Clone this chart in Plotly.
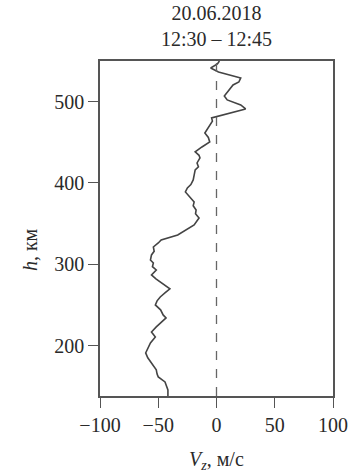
import plotly.graph_objects as go

# altitude (km) and vertical velocity Vz (m/s)
h_km = [550, 546.4, 541.4, 536.5, 529.2, 524.2, 520.5, 514.4, 507, 502.1, 496, 491, 487.4,
        482.4, 480, 476, 471.3, 466, 461.5, 456, 450.4, 444.3, 438.2, 434, 430.8, 424.6,
        420, 416, 410, 403.7, 398, 393.9, 389, 382.8, 376.7, 372, 366.8, 362, 357, 348.4,
        342.3, 336.1, 330, 326.2, 321.3, 316, 311.5, 305.3, 301.6, 297, 293, 286.9, 282,
        278.3, 274, 269.7, 265, 259.8, 255, 250, 244, 237.7, 234, 228, 223, 216.8, 210.7,
        203.3, 197, 191, 185, 180, 175, 170.1, 165, 161.5, 155.3, 150, 145.5, 138]
vz_ms = [2.5, 0.8, -5, 1.7, 20.8, 19.2, 14.2, 10.8, 6.7, 9.2, 20.8, 25, 15,
         0, -4.2, -3.5, -5.8, -8, -10, -7, -5.8, -12.5, -18.3, -15, -14.2, -16.7,
         -15.5, -18.3, -19, -20, -22, -25, -26.7, -22.5, -19.2, -20, -17.5, -18, -15, -19.2,
         -26.7, -33.3, -47.5, -50, -54.2, -53.5, -55.8, -56.7, -54.2, -55, -51.7, -55.8, -52,
         -48.3, -44, -40, -44, -48.3, -51, -52.5, -48, -45.8, -43.3, -48, -51.7, -55.8, -52.5,
         -56.7, -58.5, -60.8, -59, -56.7, -54, -51.7, -51, -50, -44.2, -43, -41.7, -41.7]

x_ticks = [-100, -50, 0, 50, 100]
y_ticks = [200, 300, 400, 500]

FONT = "Liberation Serif"
AX = "#555555"
TXT = "#2a2a2a"

fig = go.Figure()
fig.add_trace(go.Scatter(x=vz_ms, y=h_km, mode="lines",
                         line=dict(color="#444444", width=1.6), showlegend=False,
                         hoverinfo="skip"))
fig.add_shape(type="line", x0=0, x1=0, xref="x", y0=0, y1=1, yref="paper",
              line=dict(color="#666666", width=1.3, dash="dash"))

fig.update_layout(
    width=360, height=474,
    margin=dict(l=100, r=20, t=61, b=78),
    paper_bgcolor="white", plot_bgcolor="white",
    font=dict(family=FONT, size=20, color=TXT),
    showlegend=False,
)
fig.update_xaxes(range=[-100, 100], tickvals=x_ticks, ticks="outside", ticklen=10,
                 tickcolor=AX, tickwidth=1.3, showline=True, linecolor=AX, linewidth=1.5,
                 mirror=True, showgrid=False, zeroline=False,
                 tickfont=dict(family=FONT, size=20, color=TXT))
fig.update_yaxes(range=[138, 550], tickvals=y_ticks, ticks="outside", ticklen=10,
                 tickcolor=AX, tickwidth=1.3, showline=True, linecolor=AX, linewidth=1.5,
                 mirror=True, showgrid=False, zeroline=False,
                 tickfont=dict(family=FONT, size=20, color=TXT))

H = 335.0
def py(ypix):
    return (396 - ypix) / H

fig.add_annotation(text="20.06.2018<br>12:30 – 12:45", xref="paper", yref="paper",
                   x=0.5, y=py(26), showarrow=False, yanchor="middle",
                   font=dict(family=FONT, size=20, color=TXT))
fig.add_annotation(text="<i>h</i>, км", xref="paper", yref="paper",
                   x=(28 - 100) / 240.0, y=py(250), textangle=-90, showarrow=False,
                   xanchor="center", yanchor="middle",
                   font=dict(family=FONT, size=20, color=TXT))
fig.add_annotation(text="<i>V</i><sub><i>z</i></sub>, м/с", xref="paper", yref="paper",
                   x=0.5, y=py(460), showarrow=False, xanchor="center", yanchor="middle",
                   font=dict(family=FONT, size=20, color=TXT))

fig.write_html("out.html")
